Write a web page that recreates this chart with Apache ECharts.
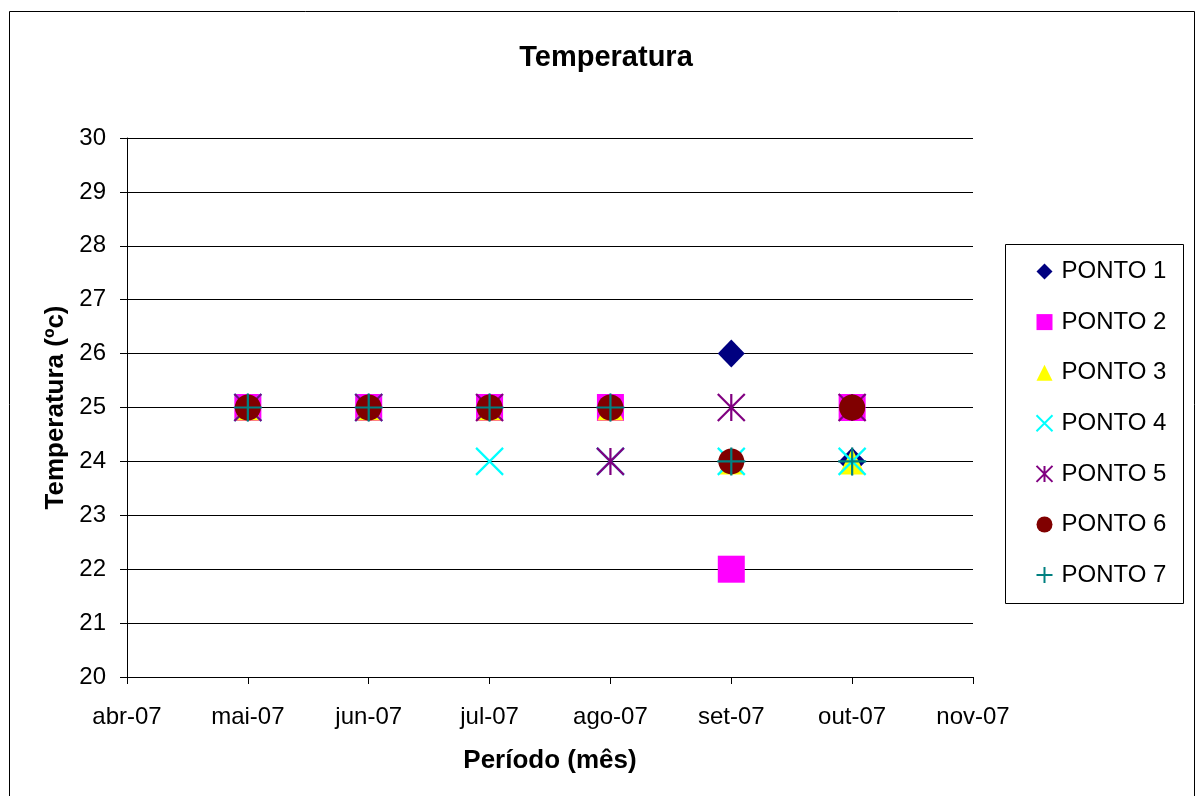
<!DOCTYPE html>
<html>
<head>
<meta charset="utf-8">
<script src="https://cdn.jsdelivr.net/npm/echarts@6/dist/echarts.min.js"></script>
<style>
  html, body { margin: 0; padding: 0; background: #fff; }
  #chart { width: 1196px; height: 796px; }
</style>
</head>
<body>
<div id="chart"></div>
<script>
// Months on the horizontal axis (first and last have no readings)
const months = ['abr-07', 'mai-07', 'jun-07', 'jul-07', 'ago-07', 'set-07', 'out-07', 'nov-07'];

// Temperature readings (ºC) per sampling point; null = no reading
const ponto1 = [null, 25, 25, 25, 25, 26, 24, null];
const ponto2 = [null, 25, 25, 25, 25, 22, 25, null];
const ponto3 = [null, 25, 25, 25, 25, 24, 24, null];
const ponto4 = [null, 25, 25, 24, 24, 24, 24, null];
const ponto5 = [null, 25, 25, 25, 24, 25, 25, null];
const ponto6 = [null, 25, 25, 25, 25, 24, 25, null];
const ponto7 = [null, 25, 25, 25, 25, 24, 24, null];

const FONT = '"Liberation Sans", Arial, sans-serif';

// Line-drawn marker shapes
const SYM_X = 'path://M0,0L10,10M10,0L0,10';
const SYM_STAR = 'path://M0,0L10,10M10,0L0,10M5,0L5,10';
const SYM_PLUS = 'path://M5,0L5,10M0,5L10,5';

function filled(name, data, symbol, size, color) {
  return {
    name, type: 'scatter', data, symbol, symbolSize: size,
    itemStyle: { color: color, opacity: 1 },
    emphasis: { disabled: true }
  };
}
function stroked(name, data, symbol, size, color) {
  return {
    name, type: 'scatter', data, symbol, symbolSize: size,
    itemStyle: { color: 'none', borderColor: color, borderWidth: 2.2, opacity: 1 },
    emphasis: { disabled: true }
  };
}

const chart = echarts.init(document.getElementById('chart'), null, { renderer: 'canvas' });

chart.setOption({
  backgroundColor: '#ffffff',
  animation: false,
  title: {
    text: 'Temperatura',
    left: 601, top: 38, textAlign: 'center',
    textStyle: { fontFamily: FONT, fontSize: 29, fontWeight: 'bold', color: '#000' }
  },
  graphic: [
    { type: 'rect', shape: { x: 9.5, y: 11.5, width: 1185, height: 800 },
      style: { fill: 'none', stroke: '#000', lineWidth: 1 }, silent: true, z: -1 },
    { type: 'rect', shape: { x: 1005.5, y: 244.5, width: 178, height: 359 },
      style: { fill: '#fff', stroke: '#000', lineWidth: 1 }, silent: true, z: 0 }
  ],
  legend: {
    orient: 'vertical',
    left: 1029, top: 254,
    itemWidth: 16, itemHeight: 16, itemGap: 25.6,
    textStyle: { fontFamily: FONT, fontSize: 24, color: '#000', lineHeight: 25, padding: [0, 0, 0, 4] },
    data: ['PONTO 1', 'PONTO 2', 'PONTO 3', 'PONTO 4', 'PONTO 5', 'PONTO 6', 'PONTO 7'],
    z: 5
  },
  grid: { left: 127, right: 223, top: 138, bottom: 119, containLabel: false },
  xAxis: {
    type: 'category',
    data: months,
    boundaryGap: false,
    name: 'Período (mês)',
    nameLocation: 'middle',
    nameGap: 71,
    nameTextStyle: { fontFamily: FONT, fontSize: 26, fontWeight: 'bold', color: '#000' },
    axisLine: { lineStyle: { color: '#000', width: 1 } },
    axisTick: { show: true, alignWithLabel: true, length: 7, lineStyle: { color: '#000' } },
    axisLabel: { fontFamily: FONT, fontSize: 24, color: '#000', margin: 28, interval: 0 },
    splitLine: { show: false }
  },
  yAxis: {
    type: 'value',
    min: 20, max: 30, interval: 1,
    name: 'Temperatura (ºc)',
    nameLocation: 'middle',
    nameGap: 58,
    nameRotate: 90,
    nameTextStyle: { fontFamily: FONT, fontSize: 26, fontWeight: 'bold', color: '#000' },
    axisLine: { show: true, lineStyle: { color: '#000', width: 1 } },
    axisTick: { show: true, length: 7, lineStyle: { color: '#000' } },
    axisLabel: { fontFamily: FONT, fontSize: 24, color: '#000', margin: 21 },
    splitLine: { show: true, lineStyle: { color: '#000', width: 1 } }
  },
  series: [
    filled('PONTO 1', ponto1, 'diamond', [27, 28], '#000080'),
    filled('PONTO 2', ponto2, 'rect', 27, '#FF00FF'),
    filled('PONTO 3', ponto3, 'triangle', 26, '#FFFF00'),
    stroked('PONTO 4', ponto4, SYM_X, 27, '#00FFFF'),
    stroked('PONTO 5', ponto5, SYM_STAR, 27, '#800080'),
    filled('PONTO 6', ponto6, 'circle', 26, '#800000'),
    stroked('PONTO 7', ponto7, SYM_PLUS, 28, '#008080')
  ]
});
</script>
</body>
</html>
